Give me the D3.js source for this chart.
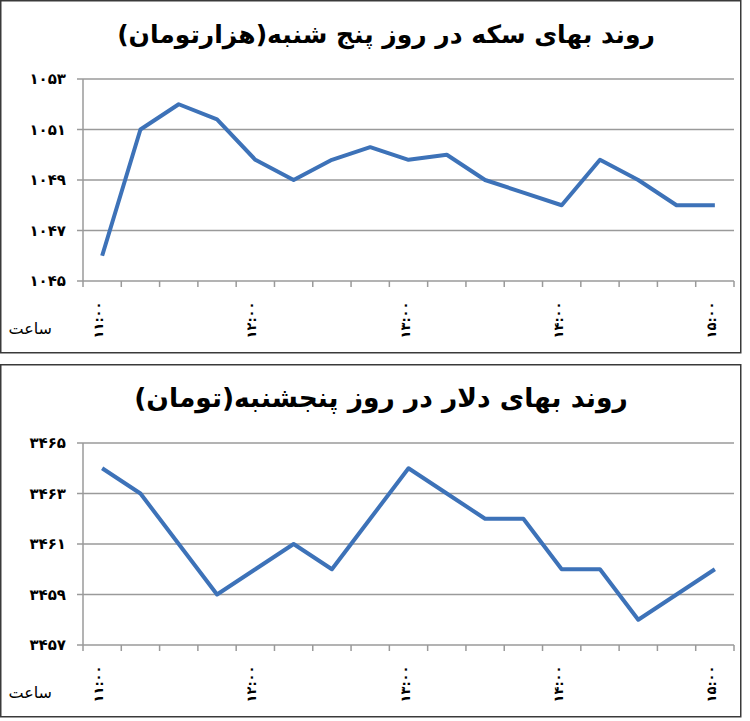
<!DOCTYPE html>
<html>
<head>
<meta charset="utf-8">
<script src="https://cdn.jsdelivr.net/npm/d3@7"></script>
<style>
  body { margin: 0; background: #fff; }
  svg { display: block; font-family: "DejaVu Sans", sans-serif; }
</style>
</head>
<body>
<script>
const width = 750;
const height = 721;

// ساعت ها (هر ۱۵ دقیقه)
const times = ["۱۱:۰۰","۱۱:۱۵","۱۱:۳۰","۱۱:۴۵","۱۲:۰۰","۱۲:۱۵","۱۲:۳۰","۱۲:۴۵",
  "۱۳:۰۰","۱۳:۱۵","۱۳:۳۰","۱۳:۴۵","۱۴:۰۰","۱۴:۱۵","۱۴:۳۰","۱۴:۴۵","۱۵:۰۰"];
const shownTimes = ["۱۱:۰۰","۱۲:۰۰","۱۳:۰۰","۱۴:۰۰","۱۵:۰۰"];

// سکه (هزار تومان)
const coinTitle = "روند بهای سکه در روز پنج شنبه(هزارتومان)";
const coinValues = [1046, 1051, 1052, 1051.4, 1049.8, 1049, 1049.8, 1050.3, 1049.8,
  1050, 1049, 1048.5, 1048, 1049.8, 1049, 1048, 1048];
const coinTicks = [1045, 1047, 1049, 1051, 1053];

// دلار (تومان)
const dollarTitle = "روند بهای دلار در روز پنجشنبه(تومان)";
const dollarValues = [3464, 3463, 3461, 3459, 3460, 3461, 3460, 3462, 3464,
  3463, 3462, 3462, 3460, 3460, 3458, 3459, 3460];
const dollarTicks = [3457, 3459, 3461, 3463, 3465];

const axisTitle = "ساعت";

const fa = (n) => String(n).replace(/\d/g, d => "۰۱۲۳۴۵۶۷۸۹"[d]);

let svg = d3.select("body").append("svg")
  .attr("width", width)
  .attr("height", height);

function drawChart(top, title, values, ticks, titleSize, titleX) {
  let g = svg.append("g").attr("transform", `translate(0, ${top})`);

  // کادر
  g.append("rect")
    .attr("x", 0.75).attr("y", 0.75)
    .attr("width", 740).attr("height", 352)
    .attr("fill", "none")
    .attr("stroke", "#3a3a3a")
    .attr("stroke-width", 1.5);

  g.append("text")
    .attr("x", titleX).attr("y", 43)
    .attr("text-anchor", "middle")
    .attr("direction", "rtl")
    .style("font-size", titleSize + "px")
    .style("font-weight", "bold")
    .text(title);

  let x = d3.scaleBand()
    .domain(times)
    .range([83, 734]);

  let y = d3.scaleLinear()
    .domain([ticks[0], ticks[ticks.length - 1]])
    .range([281, 79]);

  // خطوط افقی
  g.append("g").selectAll("line")
    .data(ticks)
    .join("line")
    .attr("x1", 77).attr("x2", 734)
    .attr("y1", d => y(d)).attr("y2", d => y(d))
    .attr("stroke", "#9a9a9a")
    .attr("stroke-width", 1.5);

  // محور عمودی
  g.append("line")
    .attr("x1", 83).attr("x2", 83)
    .attr("y1", y(ticks[ticks.length - 1])).attr("y2", y(ticks[0]))
    .attr("stroke", "#9a9a9a")
    .attr("stroke-width", 1.5);

  g.append("g").selectAll("text")
    .data(ticks)
    .join("text")
    .attr("x", 66)
    .attr("y", d => y(d))
    .attr("dy", "0.35em")
    .attr("text-anchor", "end")
    .style("font-size", "15px")
    .style("font-weight", "bold")
    .style("letter-spacing", "4.5px")
    .text(d => fa(d));

  // تیک های محور افقی
  let edges = times.map(d => x(d)).concat([x.range()[1]]);
  g.append("g").selectAll("line")
    .data(edges)
    .join("line")
    .attr("x1", d => d).attr("x2", d => d)
    .attr("y1", y(ticks[0])).attr("y2", y(ticks[0]) + 6)
    .attr("stroke", "#9a9a9a")
    .attr("stroke-width", 1.5);

  g.append("g").selectAll("text")
    .data(shownTimes)
    .join("text")
    .attr("transform", d => `translate(${x(d) + x.bandwidth() / 2 + 1}, 320) rotate(-90)`)
    .attr("text-anchor", "middle")
    .style("font-size", "13px")
    .style("font-weight", "bold")
    .style("letter-spacing", "2px")
    .text(d => d);

  g.append("text")
    .attr("x", 52).attr("y", 334)
    .attr("text-anchor", "end")
    .style("font-size", "16px")
    .text(axisTitle);

  let line = d3.line()
    .x((d, i) => x(times[i]) + x.bandwidth() / 2)
    .y(d => y(d));

  g.append("path")
    .datum(values)
    .attr("d", line)
    .attr("fill", "none")
    .attr("stroke", "#3d72b8")
    .attr("stroke-width", 4)
    .attr("stroke-linejoin", "round");
}

drawChart(0, coinTitle, coinValues, coinTicks, 25, 386);
drawChart(364, dollarTitle, dollarValues, dollarTicks, 26.5, 381);
</script>
</body>
</html>
